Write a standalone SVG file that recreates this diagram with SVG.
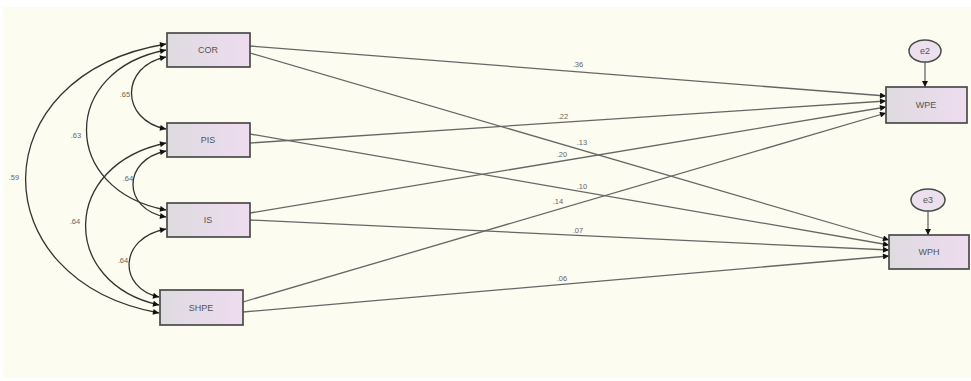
<svg xmlns="http://www.w3.org/2000/svg" width="971" height="381" viewBox="0 0 971 381">
<defs>
<linearGradient id="bf" x1="0" y1="0" x2="1" y2="0">
<stop offset="0" stop-color="#dedbdf"/>
<stop offset="0.5" stop-color="#e6dbe8"/>
<stop offset="1" stop-color="#eedcef"/>
</linearGradient>
<marker id="ah" viewBox="0 0 10 10" refX="10" refY="5" markerWidth="10" markerHeight="6" markerUnits="userSpaceOnUse" orient="auto-start-reverse">
<path d="M0,0 L10,5 L0,10 z" fill="#111"/>
</marker>
<style>
.bg{fill:#fcfcf0}
.box{fill:url(#bf);stroke:#4a4a4a;stroke-width:1.7}
.ell{fill:#ece0ee;stroke:#4a4a4a;stroke-width:1.5}
.nt{font-family:"Liberation Sans",Arial,sans-serif;font-size:9px;fill:#555;text-anchor:middle}
.lb{font-family:"Liberation Sans",Arial,sans-serif;font-size:7.5px;fill:#666;text-anchor:middle}
.ln{fill:none;stroke:#666;stroke-width:1.3;marker-end:url(#ah)}
.cv{fill:none;stroke:#333;stroke-width:1.3;marker-start:url(#ah);marker-end:url(#ah)}
</style>
</defs>
<rect class="bg" x="3" y="7" width="968" height="371"/>
<g id="connectors">
<path class="ln" d="M250,46 L886,96"/>
<path class="ln" d="M250,53 L889,240"/>
<path class="ln" d="M250,143 L886,101"/>
<path class="ln" d="M250,134 L889,245"/>
<path class="ln" d="M250,213 L886,107"/>
<path class="ln" d="M250,220 L889,250"/>
<path class="ln" d="M243,302 L886,113"/>
<path class="ln" d="M243,312 L889,256"/>
<path class="ln" d="M925,62 L925,87"/>
<path class="ln" d="M928,211 L928,235"/>
<path class="cv" d="M166,57 C120,66 120,120 166,129"/>
<path class="cv" d="M166,50 C60,70 60,190 166,210"/>
<path class="cv" d="M166,44 C-20,75 -20,280 159,313"/>
<path class="cv" d="M166,151 C122,160 122,209 166,217"/>
<path class="cv" d="M166,143 C60,165 60,283 159,305"/>
<path class="cv" d="M166,229 C118,238 118,288 159,297"/>
</g>
<g id="labels">
<text class="lb" x="578" y="67">.36</text>
<text class="lb" x="563" y="119">.22</text>
<text class="lb" x="582" y="145">.13</text>
<text class="lb" x="562" y="157">.20</text>
<text class="lb" x="582" y="189">.10</text>
<text class="lb" x="558" y="204">.14</text>
<text class="lb" x="578" y="233">.07</text>
<text class="lb" x="562" y="281">.06</text>
<text class="lb" x="125" y="97">.65</text>
<text class="lb" x="76" y="138">.63</text>
<text class="lb" x="14" y="180">.59</text>
<text class="lb" x="128" y="181">.64</text>
<text class="lb" x="75" y="224">.64</text>
<text class="lb" x="123" y="263">.64</text>
</g>
<g id="COR"><rect class="box" x="167" y="33" width="83" height="34"/><text class="nt" x="208" y="53">COR</text></g>
<g id="PIS"><rect class="box" x="167" y="123" width="83" height="34"/><text class="nt" x="208" y="143">PIS</text></g>
<g id="IS"><rect class="box" x="167" y="203" width="83" height="34"/><text class="nt" x="208" y="223">IS</text></g>
<g id="SHPE"><rect class="box" x="160" y="290" width="83" height="35"/><text class="nt" x="201" y="311">SHPE</text></g>
<g id="WPE"><rect class="box" x="886" y="87" width="81" height="36"/><text class="nt" x="926" y="108">WPE</text></g>
<g id="WPH"><rect class="box" x="889" y="235" width="80" height="34"/><text class="nt" x="929" y="255">WPH</text></g>
<g id="e2"><ellipse class="ell" cx="925" cy="51" rx="16" ry="11"/><text class="nt" x="925" y="54">e2</text></g>
<g id="e3"><ellipse class="ell" cx="928" cy="200" rx="17" ry="11"/><text class="nt" x="928" y="203">e3</text></g>
</svg>
